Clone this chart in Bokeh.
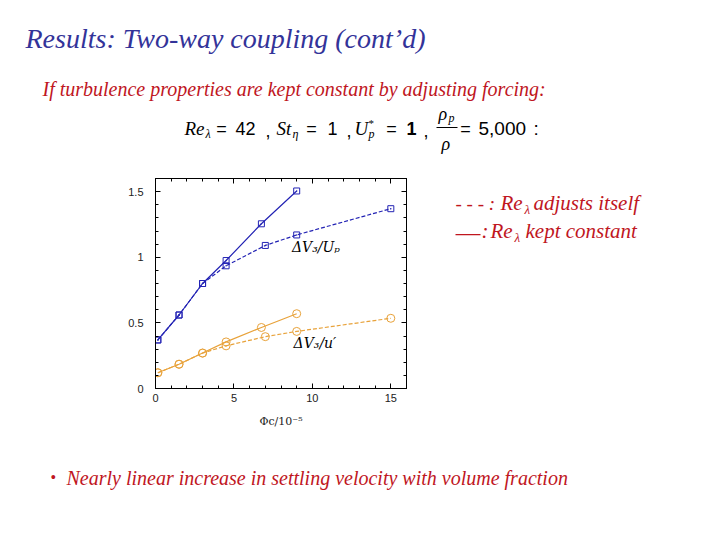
from bokeh.plotting import figure
from bokeh.models import Range1d, LinearAxis, Label, FixedTicker
from bokeh.layouts import column, row
from bokeh.embed import file_html
from bokeh.resources import INLINE

# ---- data ----
phi_const = [0.15, 1.5, 3.0, 4.5, 6.75, 9.0]
vu_const = [0.37, 0.56, 0.80, 0.975, 1.255, 1.505]
vr_const = [0.12, 0.185, 0.27, 0.355, 0.465, 0.57]

phi_adj = [0.15, 1.5, 3.0, 4.5, 7.0, 9.0, 15.0]
vu_adj = [0.37, 0.56, 0.80, 0.935, 1.09, 1.17, 1.37]
vr_adj = [0.12, 0.185, 0.27, 0.325, 0.395, 0.435, 0.535]

x_ticks = [0, 5, 10, 15]
y_ticks = [0, 0.5, 1, 1.5]
y_tick_labels = {0: "0", 0.5: "0.5", 1: "1", 1.5: "1.5"}

TOTAL_W = 712
TOP_H = 170
MID_H = 262
BOT_H = 100
CHART_W = 412
frame_l, frame_r, frame_t, frame_b = 155, 406, 178, 388

BLUE = "#2323b4"
ORANGE = "#e8a23a"
NAVY = "#333399"
RED = "#c0161e"
SERIF = "Liberation Serif"
SANS = "Liberation Sans"


def text_fig(w, h):
    f = figure(width=w, height=h, output_backend="svg", toolbar_location=None,
               x_range=Range1d(0, w), y_range=Range1d(h, 0),
               min_border=0, x_axis_location=None, y_axis_location=None)
    f.grid.visible = False
    f.outline_line_color = None
    f.background_fill_color = "white"
    f.border_fill_color = "white"
    return f


def txt(f, x, y, s, size, color, font=SERIF, style="italic", align="left"):
    f.add_layout(Label(x=x, y=y, text=s, text_font=font, text_font_style=style,
                       text_font_size=size, text_color=color, text_align=align,
                       text_baseline="middle"))


# ---- chart ----
p = figure(width=CHART_W, height=MID_H, output_backend="svg", toolbar_location=None,
           x_range=Range1d(0, 16), y_range=Range1d(0, 1.6),
           min_border_left=frame_l, min_border_right=CHART_W - frame_r,
           min_border_top=frame_t - TOP_H, min_border_bottom=TOP_H + MID_H - frame_b,
           x_axis_location=None, y_axis_location=None)
p.grid.visible = False
p.outline_line_color = "black"
p.background_fill_color = "white"
p.border_fill_color = "white"


def style_axis(ax, show_labels=True):
    ax.axis_line_color = "black"
    ax.major_tick_in = 5
    ax.major_tick_out = 0
    ax.minor_tick_in = 3
    ax.minor_tick_out = 0
    ax.major_tick_line_color = "black"
    ax.minor_tick_line_color = "black"
    ax.major_label_text_font = SANS
    ax.major_label_text_font_size = "11px"
    ax.major_label_text_color = "#222222"
    if not show_labels:
        ax.major_label_text_alpha = 0
        ax.major_label_text_font_size = "1px"
        ax.major_label_standoff = 0


xt = FixedTicker(ticks=x_ticks, minor_ticks=list(range(0, 17)))
yt = FixedTicker(ticks=y_ticks, minor_ticks=[i / 10 for i in range(0, 17)])

ax_b = LinearAxis(ticker=xt)
style_axis(ax_b)
ax_b.major_label_standoff = 5
ax_b.axis_label = "\u03a6c/10\u207b\u2075"
ax_b.axis_label_text_font = "DejaVu Serif"
ax_b.axis_label_text_font_style = "normal"
ax_b.axis_label_text_font_size = "11px"
ax_b.axis_label_text_color = "#222222"
ax_b.axis_label_standoff = 10
p.add_layout(ax_b, "below")

ax_l = LinearAxis(ticker=yt)
style_axis(ax_l)
ax_l.major_label_overrides = y_tick_labels
ax_l.major_label_standoff = 12
p.add_layout(ax_l, "left")

ax_t = LinearAxis(ticker=xt)
style_axis(ax_t, False)
p.add_layout(ax_t, "above")
ax_r = LinearAxis(ticker=yt)
style_axis(ax_r, False)
p.add_layout(ax_r, "right")

p.line(phi_adj, vu_adj, line_color=BLUE, line_width=1.2, line_dash="4 2")
p.scatter(phi_adj, vu_adj, marker="square_dot", size=6, fill_color=None, line_color=BLUE, line_width=1)
p.line(phi_const, vu_const, line_color=BLUE, line_width=1.2)
p.scatter(phi_const, vu_const, marker="square_dot", size=6, fill_color=None, line_color=BLUE, line_width=1)

p.line(phi_adj, vr_adj, line_color=ORANGE, line_width=1.2, line_dash="4 2")
p.scatter(phi_adj, vr_adj, marker="circle", size=8, fill_color=None, line_color=ORANGE, line_width=1)
p.line(phi_const, vr_const, line_color=ORANGE, line_width=1.2)
p.scatter(phi_const, vr_const, marker="circle", size=8, fill_color=None, line_color=ORANGE, line_width=1)

p.add_layout(Label(x=8.7, y=1.08, text="\u0394V\u2083/U\u209a", text_font="DejaVu Serif",
                   text_font_style="italic", text_font_size="14px", text_color="black",
                   text_baseline="middle"))
p.add_layout(Label(x=8.8, y=0.345, text="\u0394V\u2083/u\u2032", text_font="DejaVu Serif",
                   text_font_style="italic", text_font_size="14px", text_color="black",
                   text_baseline="middle"))

# ---- top text ----
top = text_fig(TOTAL_W, TOP_H)
txt(top, 25, 38, "Results: Two-way coupling (cont\u2019d)", "28px", NAVY)
txt(top, 42, 88, "If turbulence properties are kept constant by adjusting forcing:", "20px", RED)

K = "black"
EY = 128
txt(top, 184, EY, "Re", "19px", K)
txt(top, 205, EY + 5, "\u03bb", "12px", K)
txt(top, 221, EY, "=", "18px", K, font=SANS, style="normal", align="center")
txt(top, 235, EY, "42", "18px", K, font=SANS, style="normal")
txt(top, 265, EY + 2, ",", "18px", K, font=SANS, style="normal")
txt(top, 276, EY, "St", "19px", K)
txt(top, 292, EY + 5, "\u03b7", "12px", K)
txt(top, 311, EY, "=", "18px", K, font=SANS, style="normal", align="center")
txt(top, 327, EY, "1", "18px", K, font=SANS, style="normal")
txt(top, 346, EY + 2, ",", "18px", K, font=SANS, style="normal")
txt(top, 354, EY, "U", "19px", K)
txt(top, 368, EY - 6, "*", "11px", K, style="normal")
txt(top, 368, EY + 5, "p", "12px", K)
txt(top, 391, EY, "=", "18px", K, font=SANS, style="normal", align="center")
txt(top, 406, EY, "1", "18px", K, font=SANS, style="bold")
txt(top, 423, EY + 2, ",", "18px", K, font=SANS, style="normal")
txt(top, 438, EY - 15, "\u03c1", "18px", K)
txt(top, 448, EY - 11, "p", "12px", K)
top.line([436, 457], [EY - 1, EY - 1], line_color=K, line_width=1)
txt(top, 441, EY + 15, "\u03c1", "18px", K)
txt(top, 465, EY, "=", "18px", K, font=SANS, style="normal", align="center")
txt(top, 478, EY, "5,000", "19px", K, font=SANS, style="normal")
txt(top, 533, EY, ":", "19px", K, font=SANS, style="normal")

# ---- legend text (right of chart) ----
leg = text_fig(TOTAL_W - CHART_W, MID_H)
ox, oy = CHART_W, TOP_H
txt(leg, 455 - ox, 201 - oy, "- - - :", "19px", RED)
txt(leg, 500 - ox, 201 - oy, "Re", "21px", RED)
txt(leg, 524 - ox, 209 - oy, "\u03bb", "13px", RED)
txt(leg, 533 - ox, 201 - oy, "adjusts itself", "21px", RED)
leg.line([455 - ox, 480 - ox], [240 - oy, 240 - oy], line_color=RED, line_width=1.3)
txt(leg, 481 - ox, 235 - oy, ":", "21px", RED)
txt(leg, 490 - ox, 235 - oy, "Re", "21px", RED)
txt(leg, 514 - ox, 243 - oy, "\u03bb", "13px", RED)
txt(leg, 525 - ox, 235 - oy, "kept constant", "21px", RED)

# ---- bottom text ----
bot = text_fig(TOTAL_W, BOT_H)
by = TOP_H + MID_H
txt(bot, 50, 477 - by, "\u2022", "16px", RED, style="normal")
txt(bot, 66, 477 - by, "Nearly linear increase in settling velocity with volume fraction", "20px", RED)

layout = column(top, row(p, leg), bot)
open("out.html", "w").write(file_html(layout, INLINE))
